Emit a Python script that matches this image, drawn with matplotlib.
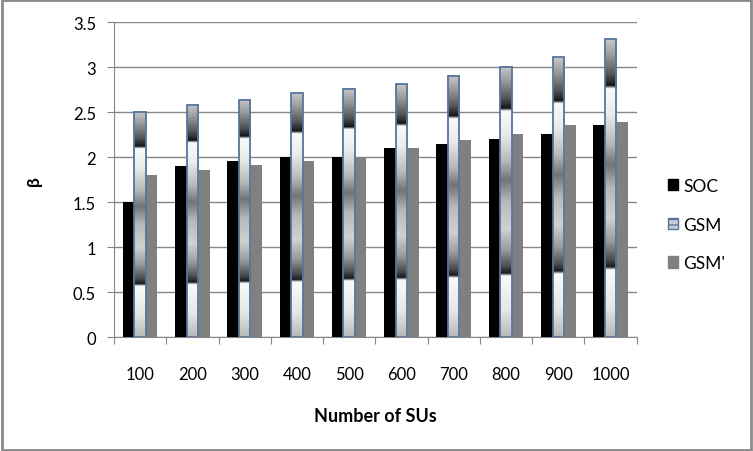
import numpy as np
import matplotlib
matplotlib.use('Agg')
import matplotlib.pyplot as plt
from matplotlib.colors import LinearSegmentedColormap
from matplotlib.patches import Patch, Rectangle

plt.rcParams['font.family'] = ['Lato', 'DejaVu Sans']

# 데이터
categories = ['100', '200', '300', '400', '500', '600', '700', '800', '900', '1000']
soc = [1.5, 1.9, 1.96, 2.0, 2.0, 2.1, 2.15, 2.2, 2.26, 2.36]
gsm = [2.5, 2.58, 2.64, 2.71, 2.76, 2.81, 2.9, 3.0, 3.11, 3.31]
gsm_p = [1.8, 1.86, 1.91, 1.96, 2.0, 2.1, 2.19, 2.26, 2.36, 2.39]

# GSM 막대의 금속 느낌 그라데이션 (위 -> 아래)
stops = [(0.0, 0.78), (0.05, 0.62), (0.12, 0.32), (0.155, 0.08), (0.165, 0.98),
         (0.25, 0.92), (0.35, 0.72), (0.42, 0.45), (0.5, 0.72), (0.6, 0.82),
         (0.68, 0.6), (0.74, 0.3), (0.765, 0.1), (0.775, 0.98), (0.9, 0.9), (1.0, 0.72)]
metal = LinearSegmentedColormap.from_list(
    'metal', [(0.0, (0.0, 0.0, 0.02)), (1.0, (1.0, 1.0, 1.0))])
t = np.linspace(0, 1, 400)
profile = np.interp(t, [s[0] for s in stops], [s[1] for s in stops])
grad = profile[:, None]

fig = plt.figure(figsize=(7.53, 4.52), dpi=100)
ax = fig.add_axes([0.1514, 0.2515, 0.6941, 0.697])

x = np.arange(len(categories))
w = 0.22
ax.bar(x - w, soc, w, color='black', zorder=3)
ax.bar(x + w, gsm_p, w, color='#808080', zorder=3)
for xi, h in zip(x, gsm):
    ax.imshow(grad, extent=[xi - w / 2, xi + w / 2, 0, h], aspect='auto',
              cmap=metal, vmin=0, vmax=1, zorder=3, interpolation='bilinear')
ax.bar(x, gsm, w, facecolor='none', edgecolor='#56769e', linewidth=1.3, zorder=4)

ax.set_xlim(-0.5, len(categories) - 0.5)
ax.set_ylim(0, 3.5)
ax.set_yticks(np.arange(0, 3.51, 0.5))
ax.set_yticklabels(['0', '0.5', '1', '1.5', '2', '2.5', '3', '3.5'])
ax.yaxis.grid(True, color='#878787', linewidth=1, zorder=0)
ax.set_axisbelow(True)

ax.set_xticks(np.arange(-0.5, len(categories)), minor=False)
ax.set_xticklabels([])
ax.set_xticks(x, minor=True)
ax.set_xticklabels(categories, minor=True)
ax.tick_params(axis='x', which='major', length=5, color='#878787', direction='out')
ax.tick_params(axis='x', which='minor', length=0, pad=21, labelsize=12)
ax.tick_params(axis='y', length=5, color='#878787', pad=8, labelsize=12)

for s in ['top', 'right']:
    ax.spines[s].set_visible(False)
for s in ['left', 'bottom']:
    ax.spines[s].set_color('#878787')

ax.set_xlabel('Number of SUs', fontsize=13, fontweight='bold', labelpad=18)
ax.set_ylabel('β', fontsize=12.5, fontweight='bold', labelpad=22)

handles = [Patch(facecolor='black', edgecolor='black', label='SOC'),
           Patch(facecolor='#c8ccd2', edgecolor='#56769e', hatch='---', label='GSM'),
           Patch(facecolor='#808080', edgecolor='#808080', label="GSM'")]
fig.legend(handles=handles, loc='center left', bbox_to_anchor=(0.866, 0.501),
           frameon=False, fontsize=12.5, handlelength=0.6, handleheight=0.6,
           handletextpad=0.3, labelspacing=1.3)

# 바깥 테두리
fig.patches.append(Rectangle((0.002, 0.003), 0.996, 0.994, transform=fig.transFigure,
                             fill=False, edgecolor='#8a8a8a', linewidth=2))

fig.savefig('out.png', dpi=100)
